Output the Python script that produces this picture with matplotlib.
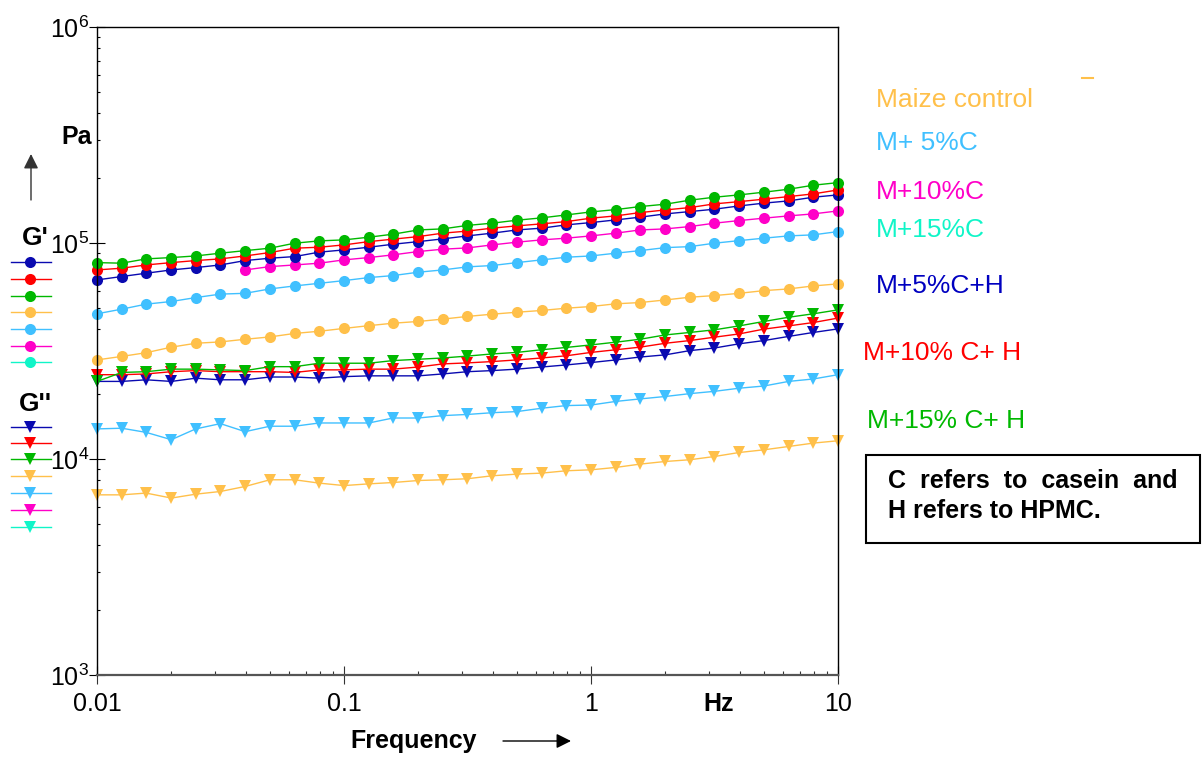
import matplotlib
matplotlib.use("Agg")
import matplotlib.pyplot as plt
from matplotlib import ticker
from matplotlib.lines import Line2D
from matplotlib.patches import Rectangle
import math

plt.rcParams['font.family'] = ['Liberation Sans', 'DejaVu Sans']
plt.rcParams['mathtext.fontset'] = 'custom'
plt.rcParams['mathtext.rm'] = 'Liberation Sans'

# frequency sweep (Hz)
freq = [0.01, 0.0126, 0.0158, 0.02, 0.0251, 0.0316, 0.0398, 0.0501, 0.0631, 0.0794,
        0.1, 0.126, 0.158, 0.2, 0.251, 0.316, 0.398, 0.501, 0.631, 0.794,
        1, 1.26, 1.58, 2, 2.51, 3.16, 3.98, 5.01, 6.31, 7.94, 10]

# storage modulus G' (Pa)
gp_blue = [67600, 70100, 72600, 75200, 77100, 79300, 83100, 85200, 86700, 90900, 93100,
           95800, 98900, 101700, 104700, 108100, 111300, 115200, 117400, 121600, 124600,
           128200, 132000, 136700, 140100, 143700, 148800, 153300, 157000, 163300, 167400]
gp_red = [75200, 76600, 79300, 81300, 83100, 84600, 87300, 90500, 94800, 95800, 98200,
          101700, 104400, 107300, 111300, 113800, 117400, 120300, 122900, 125900, 130600,
          133800, 138600, 142600, 146200, 152100, 155800, 159900, 164400, 169200, 176500]
gp_green = [81300, 80800, 84600, 85800, 87300, 89900, 92400, 94800, 100000, 102500, 103600,
            106600, 110100, 115200, 116500, 120900, 123800, 127800, 131000, 135200, 139600,
            143100, 147800, 151600, 158200, 163300, 167400, 172300, 177800, 185600, 190800]
gp_orange = [28800, 29900, 31100, 33000, 34400, 34900, 35900, 36800, 38200, 39100, 40300,
             41500, 42600, 43400, 44500, 45800, 46900, 47900, 48800, 50000, 50900,
             52400, 53100, 54600, 56200, 57200, 58600, 60300, 61400, 63400, 64800]
gp_lblue = [47100, 49500, 52200, 53700, 56000, 58100, 58600, 61400, 63400, 65200, 67100,
            69300, 70800, 73400, 75200, 77700, 78800, 81300, 83700, 86100, 87300,
            89900, 92400, 95400, 96400, 100000, 102800, 105500, 108100, 109300, 113200]
# magenta starts at 0.0398 Hz
gp_magenta = [75200, 77900, 79300, 80800, 83700, 85800, 88300, 91500, 93800, 95100,
              98200, 101100, 103600, 105500, 108100, 111300, 115200, 116500, 119400,
              123800, 127300, 130600, 133800, 136700, 141100]

# loss modulus G'' (Pa)
gpp_blue = [22900, 22900, 23300, 22900, 23700, 23300, 23300, 24000, 24000, 23700, 24100,
            24300, 24300, 24300, 24800, 25400, 25700, 26100, 26700, 27300, 28000,
            28800, 29700, 30400, 31800, 32700, 34200, 35400, 37000, 38600, 40100]
gpp_red = [24600, 24600, 24800, 25400, 25700, 25400, 25400, 25400, 25200, 25900, 25900,
           26100, 26100, 26700, 27600, 27900, 28300, 28800, 29400, 30100, 31200,
           32100, 33000, 34400, 35400, 36700, 38000, 40000, 41400, 42900, 45000]
gpp_green = [22900, 25200, 25400, 26100, 26100, 25900, 25700, 26800, 26800, 27800, 27800,
             27800, 28600, 29000, 29400, 30000, 30700, 31200, 32100, 32900, 33800,
             34800, 35900, 37600, 38600, 39700, 41400, 43400, 45400, 47100, 49100]
gpp_lblue = [13800, 13900, 13300, 12300, 13800, 14600, 13400, 14200, 14200, 14700, 14700,
             14700, 15500, 15500, 15900, 16100, 16400, 16600, 17200, 17700, 17800,
             18500, 19000, 19500, 20100, 20600, 21300, 21800, 22900, 23500, 24600]
gpp_orange = [6830, 6830, 6960, 6600, 6880, 7080, 7470, 8020, 8020, 7740, 7540,
              7680, 7790, 7960, 8020, 8110, 8370, 8520, 8610, 8830, 8920,
              9150, 9480, 9750, 9930, 10280, 10730, 11040, 11440, 11860, 12160]

BLUE = '#0a0ab0'
RED = '#ff0000'
GREEN = '#00b800'
ORANGE = '#ffc04a'
LBLUE = '#40c0ff'
MAGENTA = '#ff00c8'
CYAN = '#10f5c8'

labels = ['Maize control', 'M+ 5%C', 'M+10%C', 'M+15%C', 'M+5%C+H', 'M+10% C+ H', 'M+15% C+ H']
label_colors = [ORANGE, LBLUE, MAGENTA, CYAN, '#0000c0', RED, GREEN]

W, H = 1204, 758
fig = plt.figure(figsize=(W / 100, H / 100), dpi=100)
ax = fig.add_axes([97 / W, 1 - 675 / H, (838 - 97) / W, (675 - 27.3) / H])


def fx(px):
    return px / W


def fy(py):
    return 1 - py / H


ms = 8
lw = 1.0
# G'' first (triangles)
for vals, c in [(gpp_orange, ORANGE), (gpp_lblue, LBLUE), (gpp_blue, BLUE),
                (gpp_red, RED), (gpp_green, GREEN)]:
    ax.plot(freq, vals, color=c, lw=lw, marker='v', ms=ms + 1, mew=0, clip_on=False)
# G' (circles)
for x, vals, c in [(freq, gp_orange, ORANGE), (freq, gp_lblue, LBLUE),
                   (freq[6:], gp_magenta, MAGENTA), (freq, gp_blue, BLUE),
                   (freq, gp_red, RED), (freq, gp_green, GREEN)]:
    ax.plot(x, vals, color=c, lw=lw, marker='o', ms=ms, mew=0, clip_on=False)

ax.set_xscale('log')
ax.set_yscale('log')
ax.set_xlim(0.01, 10)
ax.set_ylim(1e3, 1e6)

ax.xaxis.set_major_locator(ticker.FixedLocator([0.01, 0.1, 1, 10]))
ax.xaxis.set_major_formatter(ticker.FixedFormatter(['0.01', '0.1', '1', '10']))
ax.xaxis.set_minor_locator(ticker.LogLocator(base=10, subs=range(2, 10)))
ax.xaxis.set_minor_formatter(ticker.NullFormatter())
ax.yaxis.set_major_locator(ticker.FixedLocator([1e3, 1e4, 1e5, 1e6]))
ax.yaxis.set_major_formatter(ticker.FuncFormatter(
    lambda v, p: r'$\mathregular{10^{%d}}$' % round(math.log10(v))))
ax.yaxis.set_minor_locator(ticker.LogLocator(base=10, subs=range(2, 10)))
ax.yaxis.set_minor_formatter(ticker.NullFormatter())

ax.tick_params(axis='x', which='major', direction='inout', length=13, width=0.8,
               labelsize=18, pad=6, color='#333333')
ax.tick_params(axis='x', which='minor', direction='in', length=3, width=0.8, color='#333333')
ax.tick_params(axis='y', which='major', direction='inout', length=11, width=0.8,
               labelsize=18, pad=0)
ax.tick_params(axis='y', which='minor', direction='in', length=2.5, width=0.8)

for s in ['top', 'right', 'left']:
    ax.spines[s].set_color('black')
    ax.spines[s].set_linewidth(1.0)
ax.spines['bottom'].set_color('#555555')
ax.spines['bottom'].set_linewidth(1.6)

# axis captions
fig.text(fx(414), fy(741), 'Frequency', fontsize=18, fontweight='bold', ha='center', va='center')
fig.text(fx(719), fy(704), 'Hz', fontsize=18, fontweight='bold', ha='center', va='center')
fig.text(fx(77), fy(137), 'Pa', fontsize=18, fontweight='bold', ha='center', va='center')
ax.annotate('', xy=(fx(571), fy(741)), xytext=(fx(503), fy(741)), xycoords='figure fraction',
            textcoords='figure fraction', annotation_clip=False,
            arrowprops=dict(arrowstyle='-|>', mutation_scale=22, lw=1, color='black',
                            shrinkA=0, shrinkB=0))
ax.annotate('', xy=(fx(31), fy(154)), xytext=(fx(31), fy(200)), xycoords='figure fraction',
            textcoords='figure fraction', annotation_clip=False,
            arrowprops=dict(arrowstyle='-|>', mutation_scale=22, lw=1, color='#333333',
                            shrinkA=0, shrinkB=0))

# left-hand legend keys
key_colors = [BLUE, RED, GREEN, ORANGE, LBLUE, MAGENTA, CYAN]
fig.text(fx(35), fy(238), "G'", fontsize=19, fontweight='bold', ha='center', va='center')
fig.text(fx(35), fy(404), "G''", fontsize=19, fontweight='bold', ha='center', va='center')
gp_key_y = [262, 279, 296, 312, 329, 346, 362]
gpp_key_y = [427, 443, 459, 476, 493, 510, 527]
for yk, c in zip(gp_key_y, key_colors):
    fig.add_artist(Line2D([fx(11), fx(51)], [fy(yk), fy(yk)], color=c, lw=1,
                          transform=fig.transFigure))
    fig.add_artist(Line2D([fx(30)], [fy(yk)], color=c, marker='o', ms=ms, mew=0,
                          transform=fig.transFigure))
for yk, c in zip(gpp_key_y, key_colors):
    fig.add_artist(Line2D([fx(11), fx(51)], [fy(yk), fy(yk)], color=c, lw=1,
                          transform=fig.transFigure))
    fig.add_artist(Line2D([fx(30)], [fy(yk)], color=c, marker='v', ms=ms + 1, mew=0,
                          transform=fig.transFigure))

# right-hand sample names
label_pos = [(876, 100), (876, 143), (876, 192), (876, 230), (876, 286), (863, 353), (867, 421)]
for txt, c, (px, py) in zip(labels, label_colors, label_pos):
    fig.text(fx(px), fy(py), txt, color=c, fontsize=19, ha='left', va='center')
fig.add_artist(Line2D([fx(1082), fx(1093)], [fy(78), fy(78)], color=ORANGE, lw=1.5,
                      transform=fig.transFigure))

# note box
fig.add_artist(Rectangle((fx(866), fy(543)), fx(1200) - fx(866), fy(455) - fy(543),
                         transform=fig.transFigure, fill=False, lw=1.5, ec='black'))
fig.text(fx(888), fy(481), 'C  refers  to  casein  and', fontsize=18, fontweight='bold',
         ha='left', va='center')
fig.text(fx(888), fy(511), 'H refers to HPMC.', fontsize=18, fontweight='bold',
         ha='left', va='center')

fig.savefig('out.png', dpi=100)
